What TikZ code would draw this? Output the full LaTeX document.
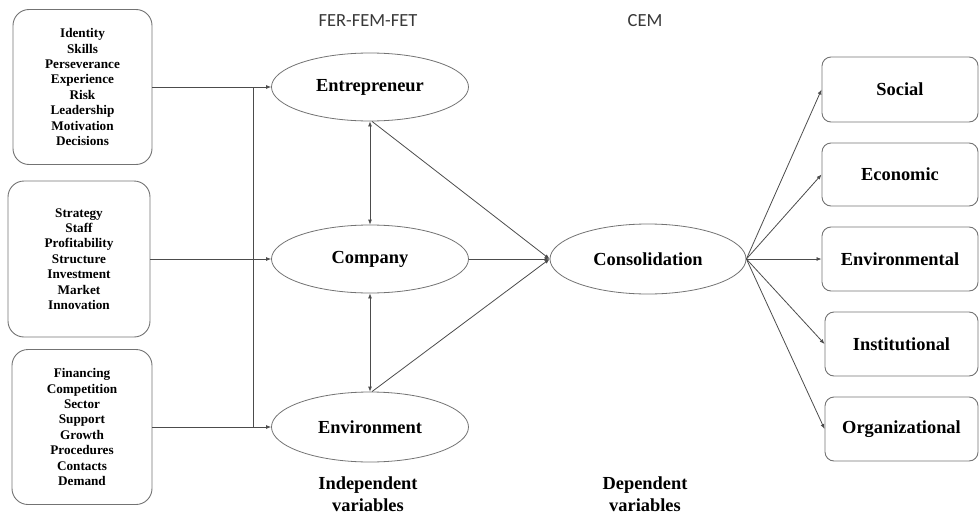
\documentclass[tikz,border=0pt]{standalone}
\usepackage{fontspec}
\setmainfont{Liberation Serif}
\newfontfamily\hdrfont{Carlito}
\usetikzlibrary{shapes.geometric,arrows.meta}
\begin{document}
\begin{tikzpicture}[x=1pt,y=-1pt,
  lbox/.style={draw=black!55, line width=0.9pt, rounded corners=16pt, inner sep=0pt, align=center,
    font=\fontsize{13.2}{15.4}\selectfont\bfseries},
  rbox/.style={draw=black!55, line width=0.9pt, rounded corners=9pt, inner sep=0pt, align=center,
    minimum height=64pt, font=\fontsize{18.4}{22}\selectfont\bfseries},
  oval/.style={ellipse, draw=black!55, line width=0.8pt, inner sep=0pt, minimum width=197pt,
    minimum height=68pt, font=\fontsize{18.4}{22}\selectfont\bfseries},
  hdr/.style={font=\hdrfont\fontsize{18.5}{22}\selectfont, text=black!78, inner sep=0pt},
  lbl/.style={align=center, font=\fontsize{18.4}{22}\selectfont\bfseries, inner sep=0pt},
  conn/.style={draw=black!70, line width=0.8pt},
  arr/.style={conn, -{Latex[length=5pt,width=4pt]}},
  darr/.style={conn, {Latex[length=5pt,width=4pt]}-{Latex[length=5pt,width=4pt]}}
]
\useasboundingbox (0,0) rectangle (980,514);

% headers
\node[hdr] (h1) at (368,21) {FER-FEM-FET};
\node[hdr] (h2) at (645,21) {CEM};

% left boxes
\node[lbox, minimum width=139pt, minimum height=155pt] (b1) at (82.5,87) {Identity\\Skills\\Perseverance\\Experience\\Risk\\Leadership\\Motivation\\Decisions};
\node[lbox, minimum width=142pt, minimum height=156pt] (b2) at (79,259) {Strategy\\Staff\\Profitability\\Structure\\Investment\\Market\\Innovation};
\node[lbox, minimum width=140pt, minimum height=155pt] (b3) at (82,427) {Financing\\Competition\\Sector\\Support\\Growth\\Procedures\\Contacts\\Demand};

% ellipses
\node[oval] (e1) at (370,87) {Entrepreneur};
\node[oval] (e2) at (370,259) {Company};
\node[oval, minimum height=70pt] (e3) at (370,427) {Environment};
\node[oval, minimum width=196pt, minimum height=70pt] (con) at (648,259) {Consolidation};

% right boxes
\node[rbox, minimum width=156pt, minimum height=65pt] (r1) at (900,89.5) {Social};
\node[rbox, minimum width=156pt, minimum height=63pt] (r2) at (900,174.5) {Economic};
\node[rbox, minimum width=156pt] (r3) at (900,259) {Environmental};
\node[rbox, minimum width=153pt] (r4) at (901.5,344) {Institutional};
\node[rbox, minimum width=153pt] (r5) at (901.5,429) {Organizational};

% bottom labels
\node[lbl, anchor=base] (ind) at (368,489) {Independent};
\node[lbl, anchor=base] (indv) at (368,511) {variables};
\node[lbl, anchor=base] (dep) at (645,489) {Dependent};
\node[lbl, anchor=base] (depv) at (645,511) {variables};

% left connectors
\coordinate (j1) at (253,87);
\coordinate (j3) at (253,427);
\draw[conn] (j1) -- (j3);
\draw[arr] (b1.east) -- (e1.west);
\draw[arr] (b2.east) -- (e2.west);
\draw[arr] (b3.east) -- (e3.west);

% between ellipses
\draw[darr] (e1.south) -- (e2.north);
\draw[darr] (e2.south) -- (e3.north);

% to consolidation
\draw[arr] ([xshift=2pt]e1.south) -- (con.west);
\draw[arr] (e2.east) -- (con.west);
\draw[arr] ([xshift=2pt]e3.north) -- (con.west);

% from consolidation
\draw[arr] (con.east) -- (r1.west);
\draw[arr] (con.east) -- (r2.west);
\draw[arr] (con.east) -- (r3.west);
\draw[arr] (con.east) -- (r4.west);
\draw[arr] (con.east) -- (r5.west);
\end{tikzpicture}
\end{document}
